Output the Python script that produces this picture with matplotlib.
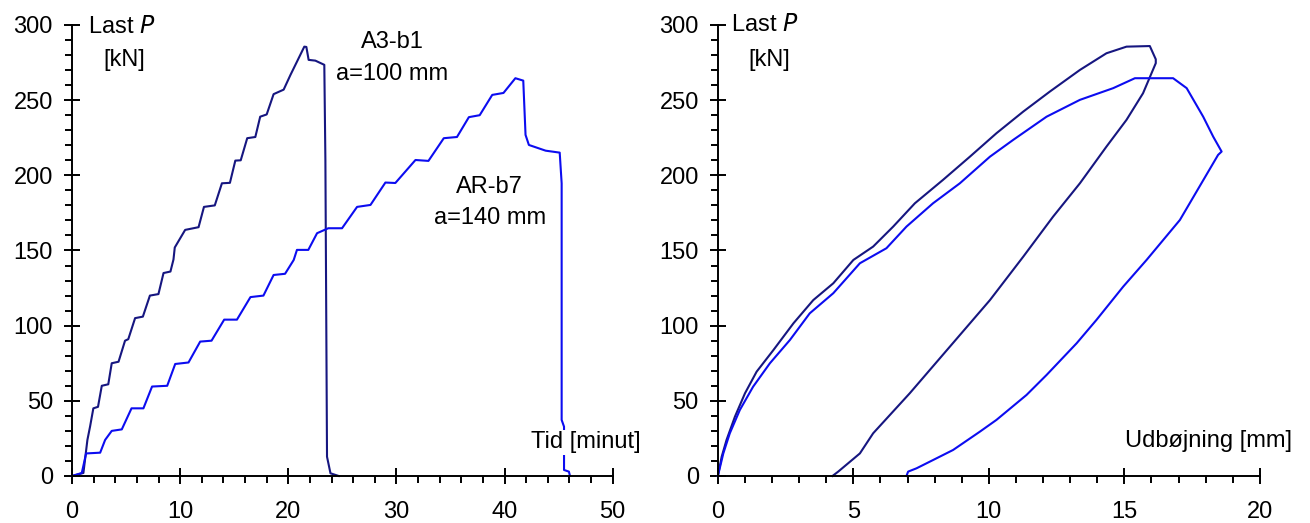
import matplotlib
matplotlib.use("Agg")
import matplotlib.pyplot as plt
from matplotlib.ticker import MultipleLocator

plt.rcParams['font.family'] = ['Liberation Sans', 'DejaVu Sans']

# --- venstre: last vs. tid ---
a3_tid = [0, 1.05, 1.42, 1.67, 1.97, 2.4, 2.75, 3.35, 3.67, 4.3, 4.9, 5.2, 5.83, 6.55,
          7.2, 7.99, 8.46, 9.1, 9.38, 9.5, 10.46, 11.7, 12.2, 13.2, 13.86, 14.6, 15.1,
          15.6, 16.2, 16.95, 17.4, 18.0, 18.64, 19.57, 20.2, 20.8, 21.48, 21.67, 21.88,
          22.5, 23.33, 23.43, 23.58, 23.9, 24.66]
a3_last = [0, 2, 24, 33, 45, 46, 60, 61, 75, 76, 90, 91, 105, 106,
           120, 121, 135, 136, 144, 152, 163.7, 165.5, 179, 180, 194.7, 195, 209.8,
           210, 224.7, 225.5, 239, 240.5, 254, 257, 266.8, 275.6, 285.6, 285.4, 276.8,
           276.3, 273.5, 210, 12.8, 1.8, 0]

ar_tid = [0, 0.9, 1.3, 2.6, 3.06, 3.67, 4.6, 5.5, 6.6, 7.4, 8.8, 9.54, 10.77, 11.85,
          12.9, 14.07, 15.25, 16.5, 17.7, 18.64, 19.7, 20.5, 20.8, 21.85, 22.66, 23.7,
          24.97, 26.36, 27.6, 28.98, 29.9, 31.76, 32.96, 34.38, 35.6, 36.7, 37.7, 38.86,
          39.9, 41.0, 41.73, 41.94, 42.25, 43.8, 45.1, 45.28, 45.28, 45.5, 45.5, 45.95, 46.05]
ar_last = [0, 2, 15, 15.5, 24, 30, 31, 45, 45, 59.5, 60, 74.5, 75.5, 89.4,
           90, 104, 104, 119, 120, 133.7, 134.5, 143.7, 150.4, 150.4, 161.5, 164.8,
           164.8, 179, 180.3, 195.2, 194.9, 210.2, 209.6, 224.7, 225.5, 238.7, 240, 253.5,
           254.8, 264.6, 263, 226.9, 220.2, 216.4, 215.1, 194.7, 37.3, 32.8, 4, 2.9, 0]

# --- hoejre: last vs. udboejning ---
a3_udb = [0, 0.14, 0.32, 0.63, 1.0, 1.43, 2.05, 2.79, 3.52, 4.26, 5.0, 5.73, 6.47,
          7.27, 8.31, 9.3, 10.28, 11.27, 12.25, 13.36, 14.34, 15.08, 15.94, 16.06,
          16.16, 16.16, 15.69, 15.08, 14.34, 13.36, 12.37, 11.27, 10.04, 8.56, 7.08,
          5.73, 5.24, 4.44, 4.23]
a3_last_udb = [0, 12.8, 24, 39.5, 55, 69.4, 83.8, 101.6, 117, 128.2, 143.7, 152.6, 165.9,
               181.4, 197, 212.4, 228, 242.4, 255.7, 270.1, 281.2, 285.6, 286, 281.2,
               277.2, 274.6, 254.6, 236.9, 219.1, 194.7, 172.5, 145.9, 117, 86, 55,
               28.4, 15, 2.9, 0]

ar_udb = [0, 0.2, 0.44, 0.81, 1.3, 1.92, 2.66, 3.39, 4.26, 5.24, 6.22, 6.96, 7.94,
          8.93, 10.04, 10.9, 12.13, 13.36, 14.59, 15.39, 16.8, 17.3, 17.91, 18.28,
          18.59, 18.46, 17.05, 15.82, 14.96, 13.97, 13.24, 12.13, 11.39, 10.28, 9.67,
          8.68, 7.94, 7.33, 7.02, 6.96]
ar_last_udb = [0, 15, 28.4, 43.9, 59.4, 75, 90.5, 108.2, 121.6, 141.5, 151.5, 165.9, 181.4,
               194.7, 212.4, 223.6, 239, 250.2, 258, 264.6, 264.6, 258, 239, 225.7,
               215.8, 213.6, 170.3, 143.7, 126, 103.8, 88.3, 67.2, 53.9, 37.3, 29.5,
               17.3, 10.6, 5.1, 2.9, 0]

navy = '#161680'
blaa = '#0c0cf0'
fs = 17


def style_akse(ax, xmax, xmajor, xminor):
    ax.set_xlim(0, xmax)
    ax.set_ylim(0, 300)
    for s in ['top', 'right']:
        ax.spines[s].set_visible(False)
    for s in ['left', 'bottom']:
        ax.spines[s].set_linewidth(1.4)
    ax.xaxis.set_major_locator(MultipleLocator(xmajor))
    ax.xaxis.set_minor_locator(MultipleLocator(xminor))
    ax.yaxis.set_major_locator(MultipleLocator(50))
    ax.yaxis.set_minor_locator(MultipleLocator(10))
    ax.tick_params(which='major', direction='inout', length=11.5, width=1.4, labelsize=fs)
    ax.tick_params(which='minor', direction='out', length=5, width=1.4)
    ax.tick_params(axis='y', which='major', pad=8)
    ax.tick_params(axis='x', which='major', pad=12)
    ax.patch.set_visible(False)


fig = plt.figure(figsize=(13.1, 5.23), dpi=100)
ax1 = fig.add_axes([0.055, 0.0899, 0.4127, 0.8623])
ax2 = fig.add_axes([0.548, 0.0899, 0.4137, 0.8623])

style_akse(ax1, 50, 10, 2)
ax1.plot(a3_tid, a3_last, color=navy, lw=1.5, clip_on=False)
ax1.plot(ar_tid, ar_last, color=blaa, lw=1.5, clip_on=False)
ax1.text(1.5, 298.7, 'Last $P$', fontsize=fs, va='center', ha='left')
ax1.text(4.8, 276.8, '[kN]', fontsize=fs, va='center', ha='center')
ax1.text(29.6, 288.7, 'A3-b1', fontsize=fs, va='center', ha='center')
ax1.text(29.6, 267.5, 'a=100 mm', fontsize=fs, va='center', ha='center')
ax1.text(38.6, 192.3, 'AR-b7', fontsize=fs, va='center', ha='center')
ax1.text(38.7, 171.7, 'a=140 mm', fontsize=fs, va='center', ha='center')
ax1.text(52.6, 22.3, 'Tid [minut]', fontsize=fs, va='center', ha='right', clip_on=False,
         bbox=dict(facecolor='white', edgecolor='none', pad=1), zorder=5)

style_akse(ax2, 20, 5, 1)
ax2.plot(a3_udb, a3_last_udb, color=navy, lw=1.5, clip_on=False)
ax2.plot(ar_udb, ar_last_udb, color=blaa, lw=1.5, clip_on=False)
ax2.text(0.5, 300, 'Last $P$', fontsize=fs, va='center', ha='left')
ax2.text(1.88, 276.7, '[kN]', fontsize=fs, va='center', ha='center')
ax2.text(21.2, 23.3, 'Udbøjning [mm]', fontsize=fs, va='center', ha='right', clip_on=False)

fig.savefig('out.png', dpi=100)
